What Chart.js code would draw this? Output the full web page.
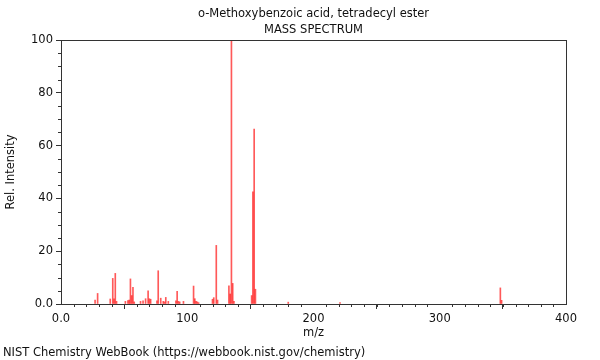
<!DOCTYPE html>
<html>
<head>
<meta charset="utf-8">
<title>o-Methoxybenzoic acid, tetradecyl ester - Mass spectrum</title>
<script src="https://cdn.jsdelivr.net/npm/chart.js@4/dist/chart.umd.min.js"></script>
<style>
  html, body { margin: 0; padding: 0; background: #fff; }
  #spectrum { display: block; }
</style>
</head>
<body>
<canvas id="spectrum" width="600" height="360"></canvas>
<script>
(function () {
  'use strict';

  // peaks: m/z and relative intensity (%)
  const MZ = [
    27, 29, 39, 41, 42, 43, 44, 51, 53, 54, 55, 56, 57, 58,
    63, 65, 67, 69, 70, 71, 76, 77, 79, 81, 82, 83, 85,
    91, 92, 93, 94, 97, 105, 106, 107, 108, 109,
    120, 121, 123, 124, 133, 134, 135, 136, 137,
    151, 152, 153, 154, 180, 221, 348, 349,
  ];
  const INTENSITY = [
    1.5, 4.0, 1.9, 9.7, 2.0, 11.6, 1.0, 1.0, 1.3, 1.5, 9.5, 3.2, 6.3, 0.8,
    1.0, 1.2, 2.0, 5.0, 2.0, 1.8, 1.2, 12.6, 2.2, 1.0, 0.8, 2.5, 1.0,
    1.2, 4.8, 1.0, 0.8, 1.0, 6.8, 2.0, 1.0, 0.8, 0.5,
    1.8, 2.4, 22.2, 1.5, 6.9, 3.8, 100, 7.8, 1.0,
    3.2, 42.5, 66.3, 5.6, 0.7, 0.5, 6.1, 1.4,
  ];

  const TITLE = 'o-Methoxybenzoic acid, tetradecyl ester';
  const SUBTITLE = 'MASS SPECTRUM';
  const FOOTER = 'NIST Chemistry WebBook (https://webbook.nist.gov/chemistry)';
  const X_TITLE = 'm/z';
  const Y_TITLE = 'Rel. Intensity';

  const FONT = '"DejaVu Sans", sans-serif';
  const FONT_SIZE = 11.5;
  const AXIS_COLOR = '#333';
  const TEXT_COLOR = '#111';

  function tickLabel(value) {
    return value === 0 ? '0.0' : String(value);
  }

  // minor ticks, frame, titles and footer
  const decorations = {
    id: 'decorations',
    afterDraw(chart) {
      const ctx = chart.ctx;
      const area = chart.chartArea;
      const x = chart.scales.x;
      const y = chart.scales.y;

      ctx.save();
      ctx.strokeStyle = AXIS_COLOR;
      ctx.lineWidth = 1;
      ctx.beginPath();
      for (let v = 10; v < 400; v += 10) {
        if (v % 100 === 0) continue;
        const px = Math.round(x.getPixelForValue(v)) + 0.5;
        ctx.moveTo(px, area.bottom);
        ctx.lineTo(px, area.bottom + 3);
      }
      for (let v = 5; v < 100; v += 5) {
        if (v % 20 === 0) continue;
        const py = Math.round(y.getPixelForValue(v)) + 0.5;
        ctx.moveTo(area.left, py);
        ctx.lineTo(area.left - 3, py);
      }
      ctx.stroke();

      ctx.strokeRect(Math.round(area.left) + 0.5, Math.round(area.top) + 0.5,
        Math.round(area.right - area.left), Math.round(area.bottom - area.top));

      ctx.fillStyle = TEXT_COLOR;
      ctx.font = FONT_SIZE + 'px ' + FONT;
      ctx.textAlign = 'center';
      ctx.textBaseline = 'middle';
      const cx = (area.left + area.right) / 2;
      ctx.fillText(TITLE, cx, 14);
      ctx.fillText(SUBTITLE, cx, 30);

      ctx.textAlign = 'left';
      ctx.fillText(FOOTER, 3, 353);
      ctx.restore();
    },
  };

  new Chart(document.getElementById('spectrum'), {
    type: 'bar',
    data: {
      datasets: [{
        data: MZ.map((m, i) => ({ x: m, y: INTENSITY[i] })),
        backgroundColor: 'rgba(255, 0, 0, 0.65)',
        borderWidth: 0,
        barThickness: 1,
      }],
    },
    options: {
      responsive: false,
      animation: false,
      layout: { padding: { top: 40, right: 34, left: 0, bottom: 0 } },
      plugins: {
        legend: { display: false },
        tooltip: { enabled: false },
      },
      scales: {
        x: {
          type: 'linear',
          min: 0,
          max: 400,
          offset: false,
          afterFit(scale) { scale.height = 56; },
          grid: { drawOnChartArea: false, tickLength: 5, color: AXIS_COLOR },
          border: { color: AXIS_COLOR },
          ticks: {
            stepSize: 100,
            padding: 3,
            maxRotation: 0,
            color: TEXT_COLOR,
            font: { family: FONT, size: FONT_SIZE },
            callback: tickLabel,
          },
          title: {
            display: true,
            text: X_TITLE,
            color: TEXT_COLOR,
            font: { family: FONT, size: FONT_SIZE },
            padding: { top: 0, bottom: 20 },
          },
        },
        y: {
          min: 0,
          max: 100,
          afterFit(scale) { scale.width = 61; },
          grid: { drawOnChartArea: false, tickLength: 5, color: AXIS_COLOR },
          border: { color: AXIS_COLOR },
          ticks: {
            stepSize: 20,
            padding: 3,
            color: TEXT_COLOR,
            font: { family: FONT, size: FONT_SIZE },
            callback: tickLabel,
          },
          title: {
            display: true,
            text: Y_TITLE,
            color: TEXT_COLOR,
            font: { family: FONT, size: FONT_SIZE },
            padding: { top: 4, bottom: 0 },
          },
        },
      },
    },
    plugins: [decorations],
  });
})();
</script>
</body>
</html>
